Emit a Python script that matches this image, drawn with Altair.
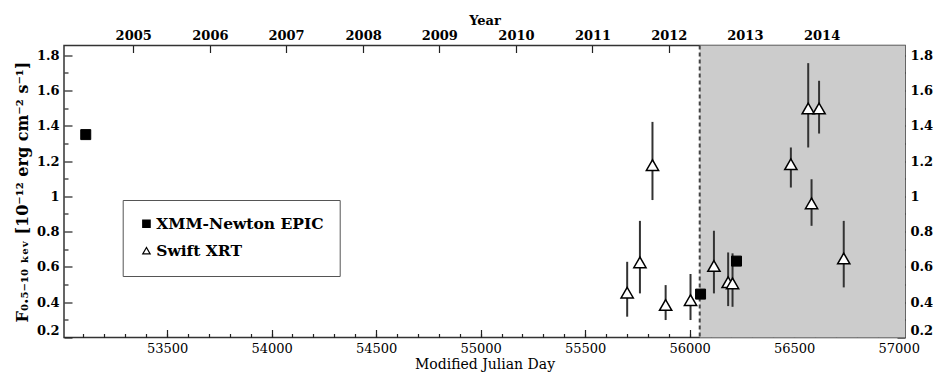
import altair as alt
import pandas as pd

# XMM-Newton EPIC fluxes: MJD, flux and 1-sigma bounds (10^-12 erg cm^-2 s^-1)
xmm_mjd = [53111, 56052, 56224]
xmm_flux = [1.35, 0.446, 0.633]
xmm_lo = [1.33, 0.43, 0.615]
xmm_hi = [1.37, 0.46, 0.65]

# Swift XRT fluxes
swift_mjd = [55701, 55762, 55822, 55885, 56004, 56116, 56184, 56205,
             56484, 56567, 56583, 56619, 56737]
swift_flux = [0.454, 0.626, 1.177, 0.384, 0.412, 0.605, 0.513, 0.507,
              1.182, 1.498, 0.960, 1.498, 0.648]
swift_lo = [0.318, 0.450, 0.979, 0.299, 0.299, 0.450, 0.378, 0.374,
            1.050, 1.277, 0.833, 1.356, 0.484]
swift_hi = [0.629, 0.861, 1.422, 0.497, 0.560, 0.805, 0.682, 0.677,
            1.277, 1.755, 1.097, 1.655, 0.861]

# shaded interval (dashed line marks its start)
shade_start = [56048]
shade_end = [57030]

# axis ranges and ticks
x_domain = [53007, 57030]
y_domain = [0.2, 1.855]
x_major = [53500, 54000, 54500, 55000, 55500, 56000, 56500, 57000]
x_minor = list(range(53100, 57001, 100))
y_major = [0.2, 0.4, 0.6, 0.8, 1.0, 1.2, 1.4, 1.6, 1.8]
y_minor = [0.3, 0.5, 0.7, 0.9, 1.1, 1.3, 1.5, 1.7]
year_mjd = [53338, 53705, 54069, 54438, 54802, 55169, 55535, 55900, 56264, 56631]
year_labels = ["2005", "2006", "2007", "2008", "2009",
               "2010", "2011", "2012", "2013", "2014"]

XMM = "XMM-Newton EPIC"
SWIFT = "Swift XRT"

xmm_df = pd.DataFrame({"mjd": xmm_mjd, "flux": xmm_flux, "lo": xmm_lo,
                       "hi": xmm_hi, "inst": XMM})
swift_df = pd.DataFrame({"mjd": swift_mjd, "flux": swift_flux, "lo": swift_lo,
                         "hi": swift_hi, "inst": SWIFT})
shade_df = pd.DataFrame({"start": shade_start, "end": shade_end})

W, H = 841, 292
FONT = "DejaVu Serif"
TICK = "#222222"
MAJ, MIN = 8, 4

xs = alt.Scale(domain=x_domain, nice=False, zero=False)
ys = alt.Scale(domain=y_domain, nice=False, zero=False)

common = dict(domain=False, grid=False, tickColor=TICK, tickWidth=1.2,
              labelFont=FONT, labelColor="black", titleFont=FONT,
              titleColor="black")

year_expr = " : ".join(
    f"datum.value == {m} ? '{lab}'" for m, lab in zip(year_mjd, year_labels)
) + " : ''"

ax_bottom = alt.Axis(orient="bottom", values=x_major, format="d",
                     tickSize=MAJ, offset=-MAJ, labelPadding=5, labelFontSize=13,
                     title="Modified Julian Day", titleFontSize=14,
                     titleFontWeight="normal", titlePadding=2, **common)
ax_bottom_minor = alt.Axis(orient="bottom", values=x_minor, labels=False,
                           tickSize=MIN, offset=-MIN, title=None, **common)
ax_top = alt.Axis(orient="top", values=year_mjd, labelExpr=year_expr,
                  tickSize=7, offset=-7, labelPadding=3, labelFontSize=13,
                  labelFontWeight="bold", title="Year", titleFontSize=13,
                  titleFontWeight="bold", titlePadding=2, **common)
ax_left = alt.Axis(orient="left", values=y_major, format="~g",
                   tickSize=MAJ, offset=-MAJ, labelPadding=5, labelFontSize=13,
                   labelFontWeight="bold", labelFlush=True,
                   title="F₀.₅₋₁₀ ₖₑᵥ [10⁻¹² erg cm⁻² s⁻¹]",
                   titleFontSize=16, titleFontWeight="bold", titlePadding=6,
                   **common)
ax_left_minor = alt.Axis(orient="left", values=y_minor, labels=False,
                         tickSize=MIN, offset=-MIN, title=None, **common)
ax_right = alt.Axis(orient="right", values=y_major, format="~g",
                    tickSize=MAJ, offset=-MAJ, labelPadding=5, labelFontSize=13,
                    labelFontWeight="bold", labelFlush=True, title=None,
                    **common)
ax_right_minor = alt.Axis(orient="right", values=y_minor, labels=False,
                          tickSize=MIN, offset=-MIN, title=None, **common)

shape_scale = alt.Scale(domain=[XMM, SWIFT], range=["square", "triangle-up"])
fill_scale = alt.Scale(domain=[XMM, SWIFT], range=["black", "white"])
stroke_scale = alt.Scale(domain=[XMM, SWIFT], range=["black", "black"])

shade = alt.Chart(shade_df).mark_rect(color="#cccccc").encode(
    x=alt.X("start:Q", scale=xs, axis=ax_top),
    x2="end:Q",
)

divider = alt.Chart(shade_df).mark_rule(
    color="#444444", strokeWidth=2, strokeDash=[4, 3]
).encode(x=alt.X("start:Q", scale=xs, axis=ax_bottom_minor))

swift_err = alt.Chart(swift_df).mark_rule(color="#333333", strokeWidth=2).encode(
    x=alt.X("mjd:Q", scale=xs, axis=ax_bottom),
    y=alt.Y("lo:Q", scale=ys, axis=ax_left),
    y2="hi:Q",
)

xmm_err = alt.Chart(xmm_df).mark_rule(color="#333333", strokeWidth=2).encode(
    x=alt.X("mjd:Q", scale=xs, axis=None),
    y=alt.Y("lo:Q", scale=ys, axis=ax_right_minor),
    y2="hi:Q",
)


def points(df, y_axis, size, width):
    return alt.Chart(df).mark_point(
        filled=True, strokeWidth=width, opacity=1, size=size
    ).encode(
        x=alt.X("mjd:Q", scale=xs, axis=None),
        y=alt.Y("flux:Q", scale=ys, axis=y_axis),
        shape=alt.Shape("inst:N", scale=shape_scale, title=None),
        fill=alt.Fill("inst:N", scale=fill_scale, title=None),
        stroke=alt.Stroke("inst:N", scale=stroke_scale, title=None),
    )


xmm_pts = points(xmm_df, ax_right, 100, 1)
swift_pts = points(swift_df, ax_left_minor, 150, 1.5)

chart = (
    alt.layer(shade, divider, swift_err, xmm_err, xmm_pts, swift_pts)
    .resolve_axis(x="independent", y="independent")
    .properties(
        width=W, height=H,
        autosize=alt.AutoSizeParams(type="none"),
        padding={"left": 64, "top": 45.5, "right": 28, "bottom": 36.5},
    )
    .configure_view(stroke="#333333", strokeWidth=1.5)
    .configure_legend(
        orient="none", legendX=58.7, legendY=154.5, padding=16,
        strokeColor="#555555", fillColor="white", cornerRadius=0,
        symbolSize=55, symbolStrokeWidth=1.2,
        labelFont=FONT, labelFontSize=15.5, labelFontWeight="bold",
        labelColor="black", labelLimit=400, rowPadding=10, labelOffset=2,
    )
)

chart.save("out.html", embed_options={"renderer": "svg", "actions": False})
